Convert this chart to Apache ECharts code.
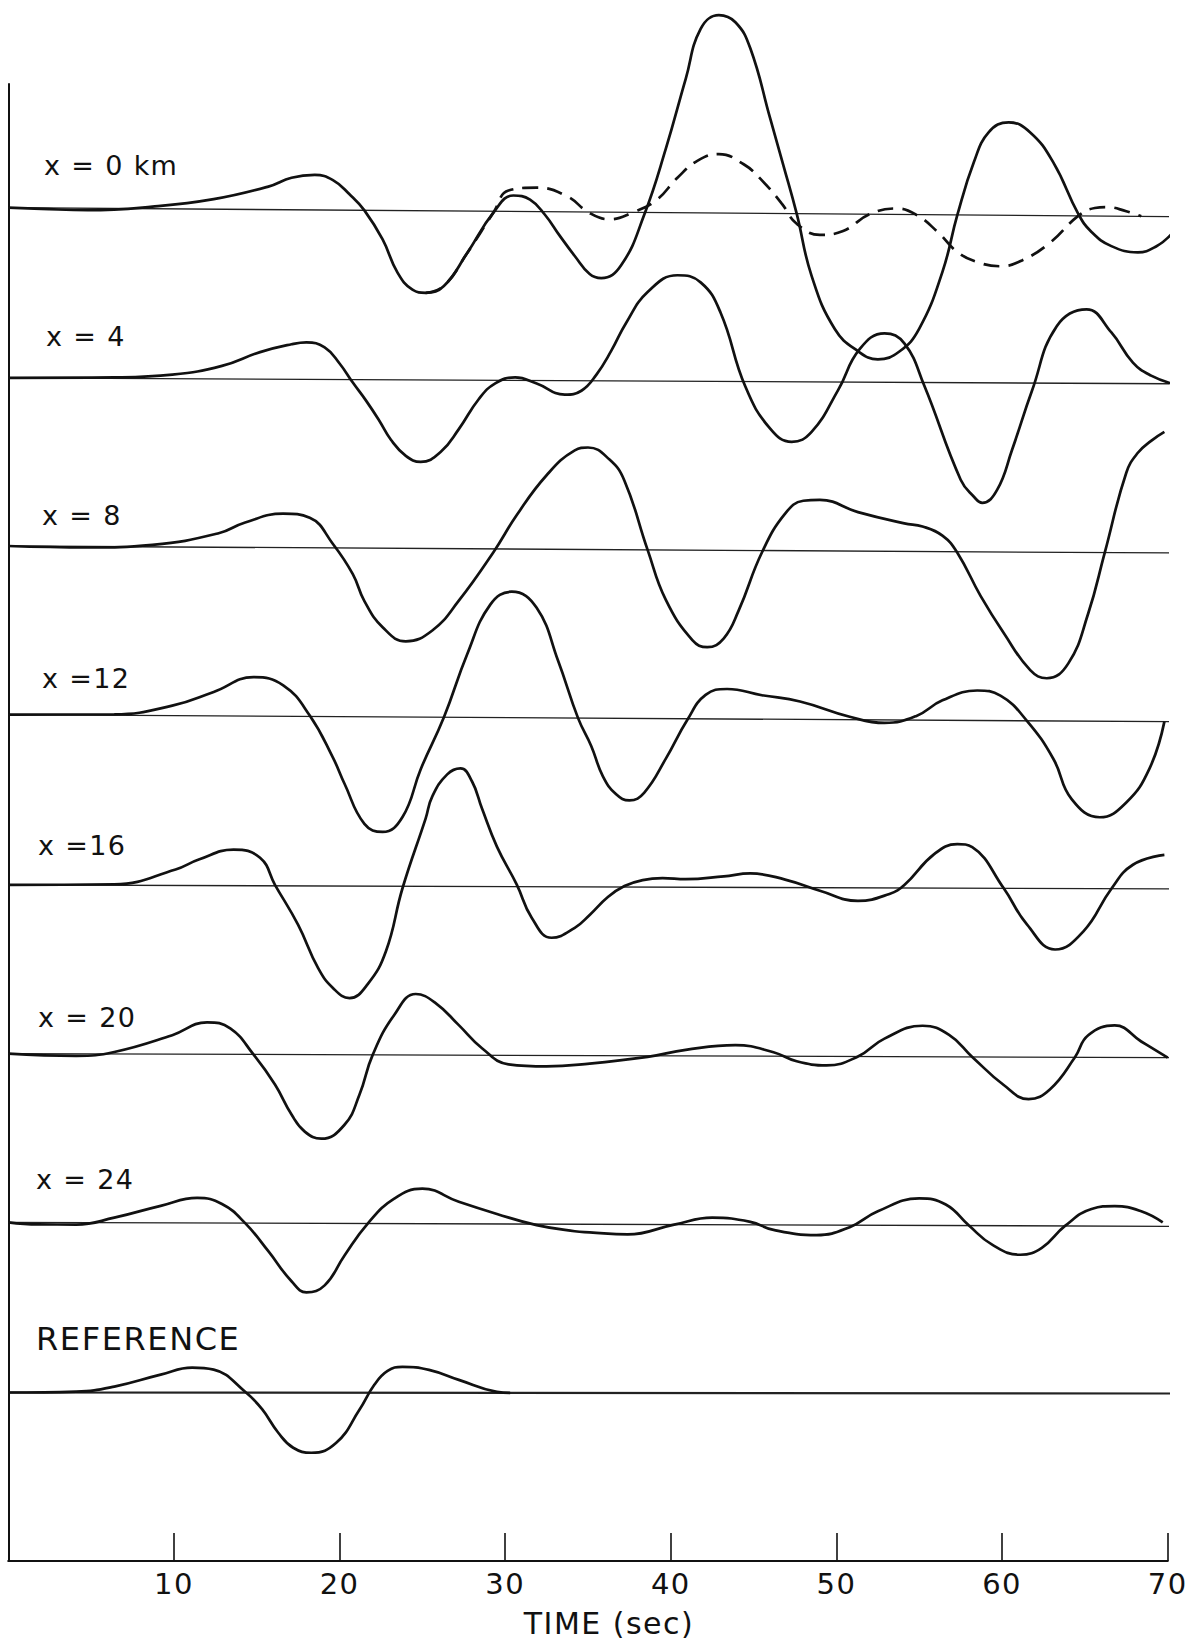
<!DOCTYPE html>
<html><head><meta charset="utf-8">
<script src="https://cdn.jsdelivr.net/npm/echarts@6/dist/echarts.min.js"></script>
<style>html,body{margin:0;padding:0;background:#fff}#c{width:1190px;height:1640px}#c text{letter-spacing:0.05em}</style>
</head><body><div id="c"></div>
<script>
// ---------------- data ----------------
const tickValues = [10, 20, 30, 40, 50, 60, 70];
const traceNames = ['x = 0 km', 'x = 4', 'x = 8', 'x =12', 'x =16', 'x = 20', 'x = 24', 'REFERENCE'];
const axisTitle = 'TIME (sec)';

// [time (sec), amplitude] pairs
const wave0km = [[0,0],[2,-1],[4.8,-2],[8.7,2],[12.4,10],[15.7,23],[17.1,32],[18.5,35],[19.6,30],[20.6,16],[21.5,0],[22.6,-29],[23.5,-62],[24.4,-79],[25.2,-82],[26.3,-75],[27.7,-42],[29.3,-1],[30.5,16],[31.5,12],[32.4,-3],[33.3,-24],[34.2,-44],[35.1,-62],[35.8,-66],[37.0,-53],[38.4,-2],[39.7,64],[40.9,134],[41.8,184],[42.9,198],[43.9,191],[44.8,165],[46.0,95],[46.8,48],[47.6,0],[48.5,-62],[49.9,-115],[51.3,-137],[52.5,-145],[53.8,-137],[55.0,-114],[56.4,-57],[57.3,0],[58.3,53],[59.2,83],[60.4,93],[61.7,83],[63.1,53],[64.6,2],[65.4,-16],[66.6,-30],[68.2,-36],[69.3,-30],[70.2,-18]];
const wave0kmDashed = [[25.2,-82],[26.3,-75],[27.7,-42],[29.3,-1],[30.2,21],[31.9,24],[33.7,16],[35.1,-1],[36.3,-7],[37.7,0],[39.1,12],[40.4,35],[41.6,52],[42.9,59],[44.4,49],[45.5,33],[46.7,10],[47.6,-10],[49.0,-21],[50.4,-17],[52.0,0],[53.6,6],[54.8,0],[56.1,-17],[57.3,-37],[58.5,-47],[59.9,-51],[61.2,-45],[62.9,-27],[64.6,0],[65.6,8],[66.3,9],[67.5,5],[68.4,0]];
const wave4km = [[0,0],[6.4,1],[9.9,4],[12.9,13],[15.2,27],[17.1,35],[18.0,37],[19.1,32],[20.0,16],[20.8,-3],[21.6,-21],[22.4,-41],[23.1,-60],[24.0,-76],[24.9,-82],[26.1,-72],[27.2,-49],[28.4,-19],[29.4,-3],[30.6,3],[31.9,-3],[33.6,-14],[34.6,-10],[35.5,6],[36.4,30],[37.3,58],[38.6,89],[40.4,106],[41.8,99],[43.0,69],[44.5,-5],[46.0,-47],[47.3,-60],[48.5,-50],[50.1,-8],[51.4,33],[52.9,49],[54.1,39],[55.3,-3],[57.5,-97],[58.3,-114],[58.8,-120],[59.7,-107],[60.6,-67],[61.8,-8],[63.3,57],[65.1,74],[66.6,51],[67.9,21],[69.0,8],[70.3,0]];
const wave8km = [[0,0],[4.8,-1],[8.7,2],[12.7,14],[14.3,25],[16.6,34],[18.2,30],[19.6,4],[20.8,-26],[21.5,-53],[22.6,-79],[24.0,-93],[25.6,-82],[27.2,-52],[29.3,-3],[30.7,34],[32.5,74],[34.2,99],[35.0,102],[36.3,90],[37.2,69],[38.6,0],[39.7,-50],[41.3,-90],[42.2,-97],[43.2,-88],[44.1,-60],[45.5,-2],[46.9,37],[48.0,50],[49.0,51],[51.3,39],[54.1,28],[55.2,25],[56.4,16],[57.3,-1],[58.7,-44],[60.1,-81],[61.7,-118],[62.7,-126],[64.0,-111],[65.2,-61],[66.2,0],[67.5,80],[68.2,100],[69.0,112],[69.8,121]];
const wave12km = [[0,0],[6.4,1],[9.9,10],[12.4,24],[14.8,39],[16.6,31],[18.2,1],[19.6,-41],[20.3,-67],[21.5,-107],[22.6,-115],[23.8,-100],[24.9,-52],[26.3,0],[27.7,63],[29.1,113],[30.4,126],[31.9,110],[33.2,57],[34.4,0],[35.2,-28],[35.9,-58],[36.7,-76],[37.5,-82],[38.4,-74],[39.7,-40],[41.0,-1],[42.1,24],[43.4,30],[45.5,24],[47.8,18],[50.8,3],[52.9,-3],[54.8,4],[56.4,20],[58.5,30],[59.9,25],[61.5,0],[63.1,-38],[64.2,-78],[65.9,-96],[67.5,-81],[68.9,-47],[69.8,0]];
const wave16km = [[0,0],[6.4,1],[10.1,16],[11.5,26],[13.6,36],[15.2,28],[16.1,1],[17.5,-39],[18.7,-82],[19.6,-102],[20.6,-112],[21.7,-98],[22.8,-65],[23.8,-2],[25.2,68],[25.6,90],[26.5,112],[27.3,118],[28.0,105],[28.6,78],[29.5,40],[30.7,2],[31.6,-31],[32.8,-51],[34.2,-41],[35.1,-28],[36.2,-10],[37.2,1],[38.3,7],[39.5,9],[40.9,8],[43.2,11],[44.8,14],[46.9,8],[49.0,-3],[51.3,-13],[53.2,-6],[54.1,3],[55.9,34],[57.3,44],[58.2,41],[60.1,0],[61.5,-36],[63.2,-61],[64.9,-43],[66.6,0],[67.9,24],[69.8,34]];
const wave20km = [[0,0],[4.1,-2],[6.4,2],[9.9,19],[12.0,32],[13.4,26],[14.8,0],[16.1,-30],[17.1,-60],[17.9,-77],[18.9,-84],[20.3,-70],[21.2,-40],[22.0,0],[23.3,40],[24.6,61],[25.8,52],[27.2,30],[28.6,7],[30.2,-9],[32.5,-11],[35.1,-8],[38.6,-1],[40.9,6],[43.9,11],[46.2,4],[47.6,-5],[49.4,-9],[51.3,0],[52.9,18],[55.2,31],[56.8,22],[58.2,0],[60.1,-28],[61.6,-42],[62.9,-32],[64.4,0],[65.2,22],[66.8,32],[68.4,16],[70.0,0]];
const wave24km = [[0,0],[1.8,-2],[4.1,-2],[6.4,5],[9.2,17],[11.4,25],[12.9,19],[14.3,0],[15.7,-28],[17.1,-58],[18.0,-69],[19.1,-62],[20.3,-32],[21.7,0],[23.3,25],[25.0,35],[27.2,22],[29.5,10],[31.9,-1],[34.2,-7],[35.1,-8],[37.4,-10],[40.2,0],[42.5,7],[44.8,3],[46.2,-5],[48.8,-10],[50.8,-2],[52.5,14],[55.0,27],[56.6,21],[58.0,0],[59.4,-19],[61.1,-29],[62.4,-22],[63.8,0],[65.4,17],[66.8,20],[68.4,15],[69.7,4]];
const waveRef = [[0,0],[4.1,1],[6.4,6],[9.2,18],[11.1,25],[12.4,23],[14.3,1],[15.3,-16],[16.3,-40],[17.2,-55],[18.3,-60],[19.8,-50],[21.2,-17],[22.1,8],[22.9,22],[23.8,26],[25.4,23],[27.2,13],[29.5,1],[30.3,0]];

const traces = [wave0km, wave4km, wave8km, wave12km, wave16km, wave20km, wave24km, waveRef];

// ---------------- layout / style ----------------
const SPACING = 168.7;
const tiltPx = [9, 6, 7, 7, 4, 4, 4, 1];
const baselineEnd = 70.4;
const labelLeftPx = [44, 46, 42, 42, 38, 38, 36, 36];
const labelLiftPx = [42, 41, 31, 36, 39, 36, 43, 54];
const FONT = 'DejaVu Sans';

function base(i, t) {
  const off = (traces.length - 1 - i) * SPACING;
  return off + tiltPx[i] / 2 - tiltPx[i] * t / baselineEnd;
}

const series = [];
traces.forEach((w, i) => {
  series.push({
    type: 'line', data: [[0, base(i, 0)], [baselineEnd, base(i, baselineEnd)]],
    symbol: 'none', clip: false, silent: true, z: 1,
    lineStyle: { color: '#222', width: i === traces.length - 1 ? 2.2 : 1.3 }
  });
  series.push({
    type: 'line', data: w.map(([t, a]) => [t, base(i, t) + a]),
    smooth: 0.45, symbol: 'none', clip: false, silent: true, z: 3,
    lineStyle: { color: '#111', width: 2.7 }
  });
});
series.push({
  type: 'line', data: wave0kmDashed.map(([t, a]) => [t, base(0, t) + a]),
  smooth: 0.45, symbol: 'none', clip: false, silent: true, z: 3,
  lineStyle: { color: '#111', width: 2.7, type: [16, 9] }
});

const chart = echarts.init(document.getElementById('c'), null, { renderer: 'svg', width: 1190, height: 1640 });
chart.setOption({
  animation: false,
  backgroundColor: '#fff',
  grid: { left: 8.3, right: 22.3, top: 84, bottom: 79, containLabel: false },
  xAxis: {
    type: 'value', min: 0, max: 70, interval: 10,
    axisLine: { show: true, onZero: false, lineStyle: { color: '#111', width: 2.2 } },
    axisTick: { show: true, inside: true, length: 28, customValues: tickValues, lineStyle: { color: '#111', width: 1.6 } },
    axisLabel: { show: true, customValues: tickValues, margin: 8, color: '#111', fontSize: 29, fontFamily: FONT },
    splitLine: { show: false }
  },
  yAxis: {
    type: 'value', min: -168, max: 1309,
    axisLine: { show: true, onZero: false, lineStyle: { color: '#111', width: 2 } },
    axisTick: { show: false }, axisLabel: { show: false }, splitLine: { show: false }
  },
  series: series
});

const graphics = traceNames.map((name, i) => {
  const p = chart.convertToPixel({ gridIndex: 0 }, [0, base(i, 0)]);
  return {
    type: 'text', x: labelLeftPx[i], y: p[1] - labelLiftPx[i],
    style: { text: name, fill: '#111', font: (i === 7 ? '32px ' : '27px ') + FONT, textAlign: 'left', textVerticalAlign: 'middle' }
  };
});
graphics.push({
  type: 'text', x: 609, y: 1623,
  style: { text: axisTitle, fill: '#111', font: '30px ' + FONT, textAlign: 'center', textVerticalAlign: 'middle' }
});
chart.setOption({ graphic: graphics });
</script></body></html>
